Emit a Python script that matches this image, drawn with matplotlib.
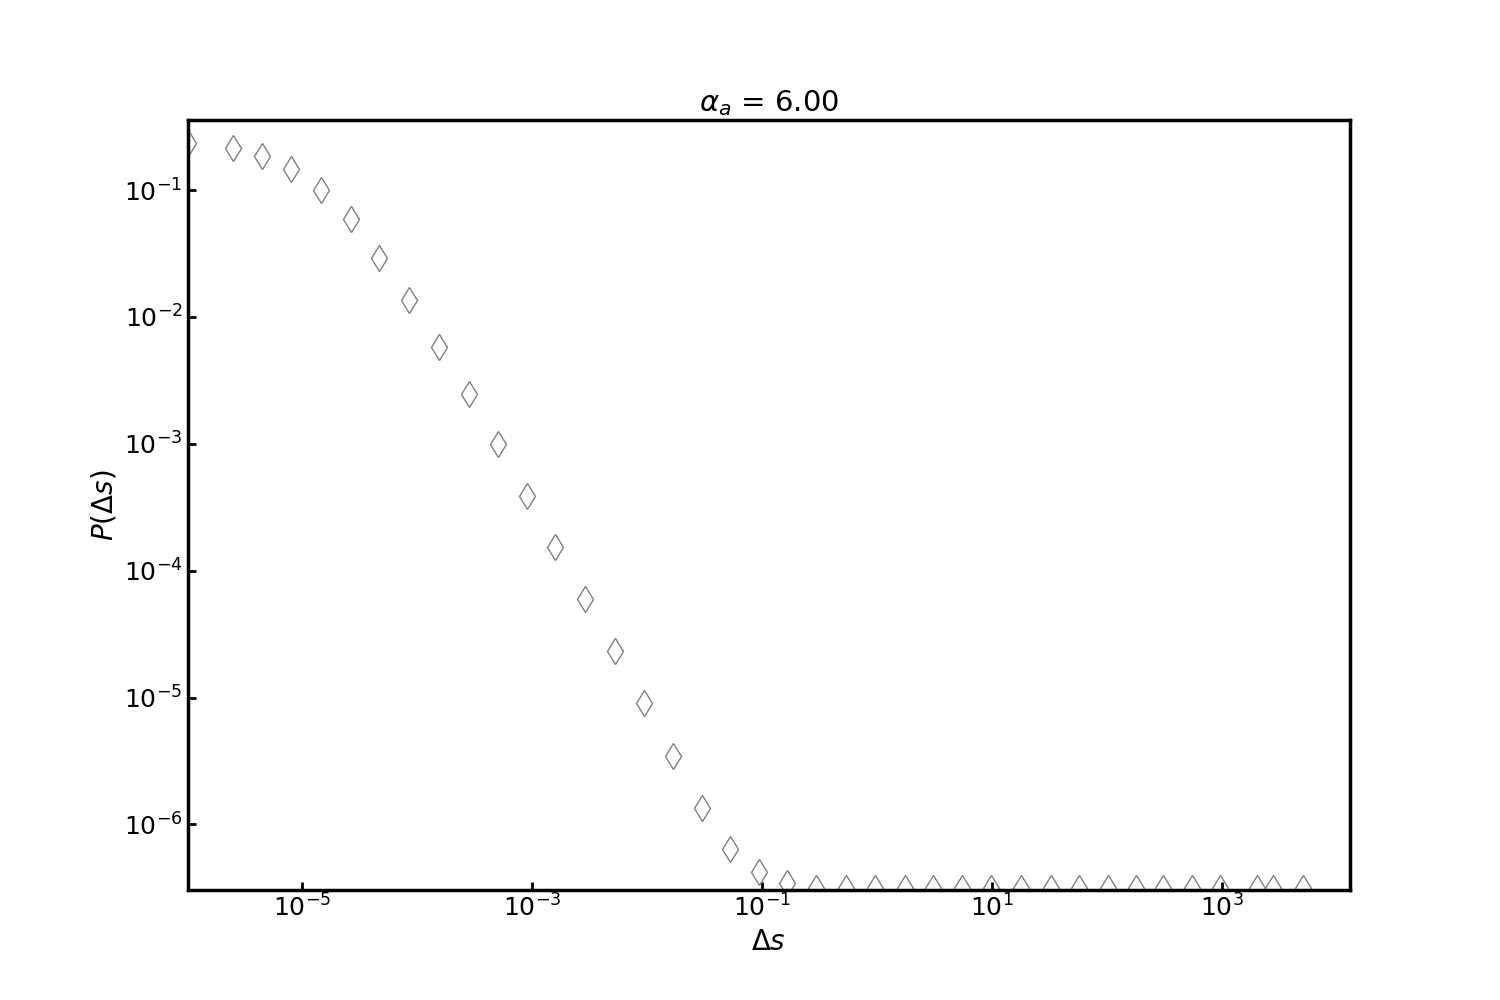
import matplotlib
matplotlib.use("Agg")
import matplotlib.pyplot as plt
from matplotlib.ticker import NullLocator

# Data (log-log)
delta_s = [1.0e-6, 2.51e-6, 4.49e-6, 8.02e-6, 1.46e-5, 2.62e-5, 4.68e-5, 8.53e-5,
           1.53e-4, 2.79e-4, 4.98e-4, 8.91e-4, 1.59e-3, 2.90e-3, 5.19e-3, 9.29e-3,
           1.66e-2, 2.97e-2, 5.27e-2, 9.33e-2, 0.165, 0.296, 0.540, 0.964,
           1.73, 3.08, 5.51, 9.86, 18.0, 32.8, 57.5, 101, 180, 310, 553, 971,
           2037, 2805, 5023]
p_delta_s = [0.236, 0.213, 0.185, 0.146, 0.0995, 0.0587, 0.0294, 0.01354,
             5.84e-3, 2.45e-3, 9.89e-4, 3.89e-4, 1.54e-4, 5.99e-5, 2.34e-5, 9.05e-6,
             3.47e-6, 1.35e-6, 6.41e-7, 4.22e-7, 3.45e-7, 3.15e-7, 3.15e-7, 3.15e-7,
             3.15e-7, 3.15e-7, 3.15e-7, 3.15e-7, 3.15e-7, 3.15e-7, 3.15e-7, 3.15e-7,
             3.15e-7, 3.15e-7, 3.15e-7, 3.15e-7, 3.15e-7, 3.15e-7, 3.15e-7]
x_ticks = [1e-5, 1e-3, 1e-1, 1e1, 1e3]
y_ticks = [1e-6, 1e-5, 1e-4, 1e-3, 1e-2, 1e-1]
title_text = r"$\alpha_a$ = 6.00"

fig, ax = plt.subplots(figsize=(15, 10), dpi=100)
ax.plot(delta_s, p_delta_s, linestyle="none", marker="d", markersize=13,
        markerfacecolor="none", markeredgecolor="grey", markeredgewidth=1)
ax.set_xscale("log")
ax.set_yscale("log")
ax.set_xlim(1e-6, 1.3e4)
ax.set_ylim(3.04e-7, 0.357)
ax.set_xticks(x_ticks)
ax.set_yticks(y_ticks)
ax.xaxis.set_minor_locator(NullLocator())
ax.yaxis.set_minor_locator(NullLocator())
ax.tick_params(which="major", direction="in", length=6, width=2, labelsize=18)
for sp in ax.spines.values():
    sp.set_linewidth(2.5)
ax.set_xlabel(r"$\Delta s$", fontsize=20)
ax.set_ylabel(r"$P(\Delta s)$", fontsize=20)
ax.set_title(title_text, fontsize=21)
fig.savefig("out.png", dpi=100)
